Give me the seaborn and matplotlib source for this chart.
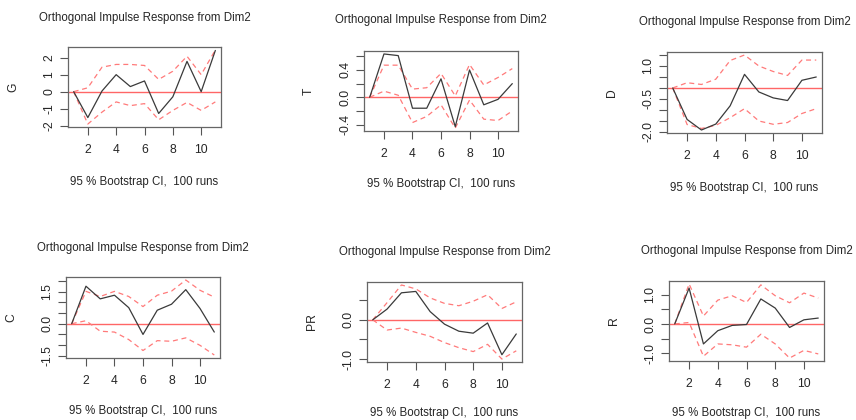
import numpy as np
import pandas as pd
import matplotlib
matplotlib.use("Agg")
import matplotlib.pyplot as plt
import seaborn as sns

sns.set_style("white")
plt.rcParams['font.family'] = ['Liberation Sans', 'DejaVu Sans']
plt.rcParams['axes.unicode_minus'] = False

horizon = list(range(1, 12))

G_irf = [0, -1.52, 0.04, 1.0, 0.3, 0.63, -1.28, -0.3, 1.78, 0.0, 2.42]
G_upper = [0, 0.23, 1.44, 1.6, 1.6, 1.54, 0.72, 1.2, 2.08, 1.0, 2.45]
G_lower = [0, -1.9, -1.2, -0.6, -0.82, -0.7, -1.65, -1.1, -0.63, -1.1, -0.6]

T_irf = [0, 0.634, 0.61, -0.16, -0.16, 0.27, -0.43, 0.4, -0.11, -0.03, 0.2]
T_upper = [0, 0.47, 0.47, 0.12, 0.14, 0.35, 0.02, 0.48, 0.18, 0.29, 0.42]
T_lower = [0, 0.09, 0.03, -0.37, -0.28, -0.11, -0.45, -0.04, -0.32, -0.34, -0.2]

D_irf = [0, -1.43, -1.91, -1.64, -0.81, 0.62, -0.18, -0.45, -0.57, 0.35, 0.5]
D_upper = [0, 0.24, 0.16, 0.4, 1.25, 1.5, 1.0, 0.75, 0.57, 1.27, 1.27]
D_lower = [0, -1.66, -1.84, -1.7, -1.35, -0.94, -1.5, -1.65, -1.57, -1.16, -0.94]

C_irf = [0, 1.75, 1.16, 1.33, 0.75, -0.5, 0.63, 0.91, 1.59, 0.71, -0.39]
C_upper = [0, 1.51, 1.27, 1.51, 1.27, 0.8, 1.33, 1.52, 2.04, 1.56, 1.24]
C_lower = [0, 0.14, -0.35, -0.39, -0.74, -1.25, -0.79, -0.82, -0.66, -1.01, -1.46]

PR_irf = [0, 0.275, 0.69, 0.725, 0.21, -0.11, -0.29, -0.34, -0.08, -0.89, -0.36]
PR_upper = [0, 0.44, 0.89, 0.79, 0.56, 0.42, 0.36, 0.475, 0.64, 0.29, 0.46]
PR_lower = [0, -0.26, -0.21, -0.32, -0.42, -0.58, -0.71, -0.81, -0.625, -1.0, -0.79]

R_irf = [0, 1.22, -0.68, -0.23, -0.05, -0.02, 0.85, 0.54, -0.12, 0.14, 0.2]
R_upper = [0, 1.36, 0.27, 0.81, 0.96, 0.73, 1.33, 0.96, 0.72, 1.05, 0.88]
R_lower = [0, 0.05, -1.1, -0.68, -0.71, -0.79, -0.35, -0.68, -1.16, -0.9, -1.02]

variables = ["G", "T", "D", "C", "PR", "R"]
irfs = [G_irf, T_irf, D_irf, C_irf, PR_irf, R_irf]
uppers = [G_upper, T_upper, D_upper, C_upper, PR_upper, R_upper]
lowers = [G_lower, T_lower, D_lower, C_lower, PR_lower, R_lower]

ytick_pos = [
    [-2, -1, 0, 1, 2],
    [-0.4, -0.2, 0.0, 0.2, 0.4, 0.6],
    [-2.0, -1.5, -1.0, -0.5, 0.0, 0.5, 1.0, 1.5],
    [-1.5, -1.0, -0.5, 0.0, 0.5, 1.0, 1.5, 2.0],
    [-1.0, -0.5, 0.0, 0.5],
    [-1.0, -0.5, 0.0, 0.5, 1.0],
]
ytick_lab = [
    ["-2", "-1", "0", "1", "2"],
    ["-0.4", "", "0.0", "", "0.4", ""],
    ["-2.0", "", "", "-0.5", "", "", "1.0", ""],
    ["-1.5", "", "", "0.0", "", "", "1.5", ""],
    ["-1.0", "", "0.0", ""],
    ["-1.0", "", "0.0", "", "1.0"],
]
xticks = [2, 4, 6, 8, 10]

title_text = "Orthogonal Impulse Response from Dim2"
sub_text = "95 % Bootstrap CI,  100 runs"

W, H = 856, 420
fig = plt.figure(figsize=(W / 100, H / 100), dpi=100)

# pixel boxes (left, top, right, bottom)
boxes = [(68, 47, 221, 127), (364, 51, 518, 131), (667, 52, 822, 133),
         (66, 277, 220, 358), (367, 282, 522, 362), (669, 281, 824, 361)]
title_y = [18, 20, 22, 248, 252, 251]
sub_y = [182, 184, 188, 411, 413, 413]

txtcol = "#262626"
fs = 8.3

for i in range(6):
    l, t, r, b = boxes[i]
    ax = fig.add_axes([l / W, 1 - b / H, (r - l) / W, (b - t) / H])
    df = pd.DataFrame({"h": horizon, "irf": irfs[i], "up": uppers[i], "lo": lowers[i]})
    ax.axhline(0, color="#ff6666", lw=1.0, zorder=1)
    sns.lineplot(data=df, x="h", y="up", ax=ax, color="#ff7a7a", lw=0.9,
                 linestyle=(0, (4, 3)), zorder=2)
    sns.lineplot(data=df, x="h", y="lo", ax=ax, color="#ff7a7a", lw=0.9,
                 linestyle=(0, (4, 3)), zorder=2)
    sns.lineplot(data=df, x="h", y="irf", ax=ax, color="#3a3a3a", lw=0.9, zorder=3)
    allv = irfs[i] + uppers[i] + lowers[i]
    lo, hi = min(allv), max(allv)
    ext = 0.04 * (hi - lo)
    ax.set_ylim(lo - ext, hi + ext)
    ax.set_xlim(0.6, 11.4)
    ax.set_xticks(xticks)
    ax.set_xticklabels([str(v) for v in xticks], fontsize=fs + 0.4, color=txtcol)
    ax.set_yticks(ytick_pos[i])
    ax.set_yticklabels(ytick_lab[i], fontsize=fs + 0.4, color=txtcol, rotation=90, va="center")
    ax.tick_params(axis="both", direction="out", length=6, width=0.8, color="#555555",
                   bottom=True, left=True, pad=3)
    ax.tick_params(axis="x", pad=6)
    ax.set_xlabel("")
    ax.set_ylabel(variables[i], fontsize=fs + 0.4, color=txtcol, rotation=90)
    ax.yaxis.set_label_coords(-49 / (r - l), 0.5)
    for s in ax.spines.values():
        s.set_color("#666666")
        s.set_linewidth(0.9)
    cx = (l + r) / 2
    fig.text(cx / W, 1 - title_y[i] / H, title_text, ha="center", va="center",
             fontsize=fs, color=txtcol)
    fig.text(cx / W, 1 - sub_y[i] / H, sub_text, ha="center", va="center",
             fontsize=fs, color=txtcol)

fig.savefig("out.png", dpi=100)
